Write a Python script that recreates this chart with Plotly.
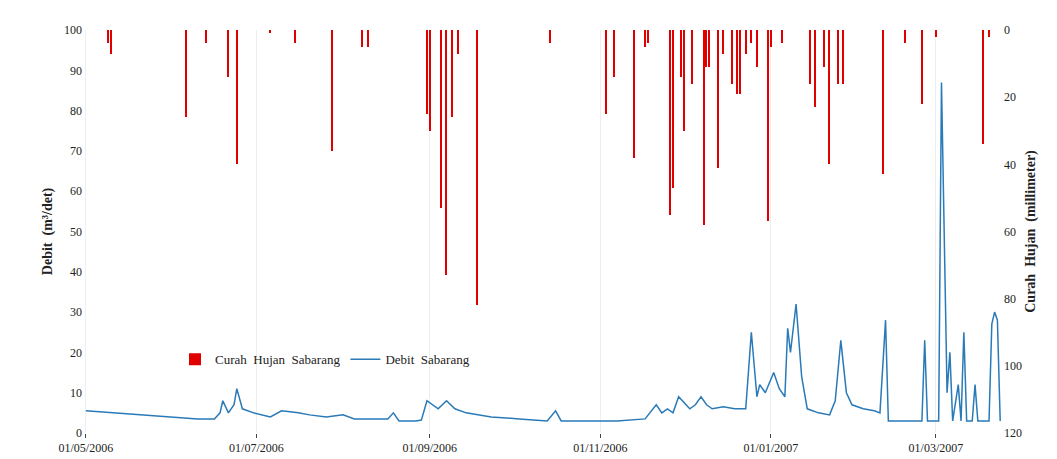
import plotly.graph_objects as go
import pandas as pd

start = pd.Timestamp("2006-05-01")

# curah hujan (mm), day offset from 01/05/2006
rain_day = [8, 9, 36, 43, 51, 54, 66, 75, 88, 99, 101, 122, 123, 127, 129, 131, 133, 140,
            166, 186, 189, 196, 200, 201, 209, 210, 213, 214, 217, 221, 222, 223, 226, 228,
            231, 233, 234, 236, 238, 240, 244, 245, 249, 259, 261, 264, 266, 269, 271, 285,
            293, 299, 304, 321, 323]
rain_mm = [4, 7, 26, 4, 14, 40, 1, 4, 36, 5, 5, 25, 30, 53, 73, 26, 7, 82,
           4, 25, 14, 38, 5, 4, 55, 47, 14, 30, 16, 58, 11, 11, 41, 7,
           16, 19, 19, 7, 4, 11, 57, 5, 4, 16, 23, 11, 40, 16, 16, 43,
           4, 22, 2, 34, 2]

# debit (m3/det)
q_day = [0, 10, 20, 30, 40, 46, 48, 49, 51, 53, 54, 56, 60, 66, 70, 76, 80, 86, 92, 96, 102,
         108, 110, 112, 118, 120, 122, 126, 129, 132, 136, 145, 155, 165, 168, 170, 180, 190,
         200, 204, 206, 208, 210, 212, 216, 218, 220, 222, 224, 228, 232, 236, 238, 240, 241,
         243, 246, 248, 250, 251, 252, 254, 256, 258, 262, 266, 268, 270, 272, 274, 278, 282,
         284, 286, 287, 292, 299, 300, 301, 305, 306, 308, 309, 310, 312, 313, 314, 315, 317,
         318, 319, 323, 324, 325, 326, 327]
q_val = [5.5, 5, 4.5, 4, 3.5, 3.5, 5, 8, 5, 7, 11, 6, 5, 4, 5.5, 5, 4.5, 4, 4.5, 3.5, 3.5,
         3.5, 5, 3, 3, 3.2, 8, 6, 8, 6, 5, 4, 3.5, 3, 5.5, 3, 3, 3,
         3.5, 7, 5, 6, 5, 9, 6, 7, 9, 7, 6, 6.5, 6, 6, 25, 9, 12,
         10, 15, 11, 9, 26, 20, 32, 14, 6, 5, 4.5, 8, 23, 10, 7, 6, 5.5,
         5, 28, 3, 3, 3, 23, 3, 3, 87, 10, 20, 3, 12, 3, 25, 3, 3,
         12, 3, 3, 27, 30, 28, 3]

tick_day = [0, 61, 123, 184, 245, 304]
tick_text = ["01/05/2006", "01/07/2006", "01/09/2006", "01/11/2006", "01/01/2007", "01/03/2007"]

rain_x = [start + pd.Timedelta(days=d) for d in rain_day]
q_x = [start + pd.Timedelta(days=d) for d in q_day]
tick_x = [start + pd.Timedelta(days=d) for d in tick_day]

fig = go.Figure()
fig.add_trace(go.Bar(x=rain_x, y=rain_mm, yaxis="y2", name="Curah  Hujan  Sabarang",
                     marker_color="#e00000", marker_line_width=0, width=86400000 * 0.5))
fig.add_trace(go.Scatter(x=q_x, y=q_val, mode="lines", name="Debit  Sabarang",
                         line=dict(color="#2a7ab8", width=1.5)))

fig.update_layout(
    width=1057, height=459,
    margin=dict(l=75, r=62, t=22, b=34),
    plot_bgcolor="white", paper_bgcolor="white",
    font=dict(family="Liberation Serif", size=12, color="#222"),
    showlegend=True,
    legend=dict(orientation="h", x=0.1, y=0.22, bgcolor="rgba(0,0,0,0)", font=dict(size=13)),
    xaxis=dict(range=[start - pd.Timedelta(days=1), start + pd.Timedelta(days=328)],
               tickvals=tick_x, ticktext=tick_text, showgrid=True, gridcolor="#eeeeee",
               ticks="outside", ticklen=4, showline=False),
    yaxis=dict(range=[0, 100], dtick=10, showgrid=False, zeroline=False,
               title=dict(text="<b>Debit  (m³/det)</b>", font=dict(size=14), standoff=8)),
    yaxis2=dict(range=[120, 0], dtick=20, overlaying="y", side="right", showgrid=False,
                zeroline=False,
                title=dict(text="<b>Curah  Hujan  (millimeter)</b>", font=dict(size=14), standoff=4)),
    bargap=0,
)

fig.write_html("out.html")
